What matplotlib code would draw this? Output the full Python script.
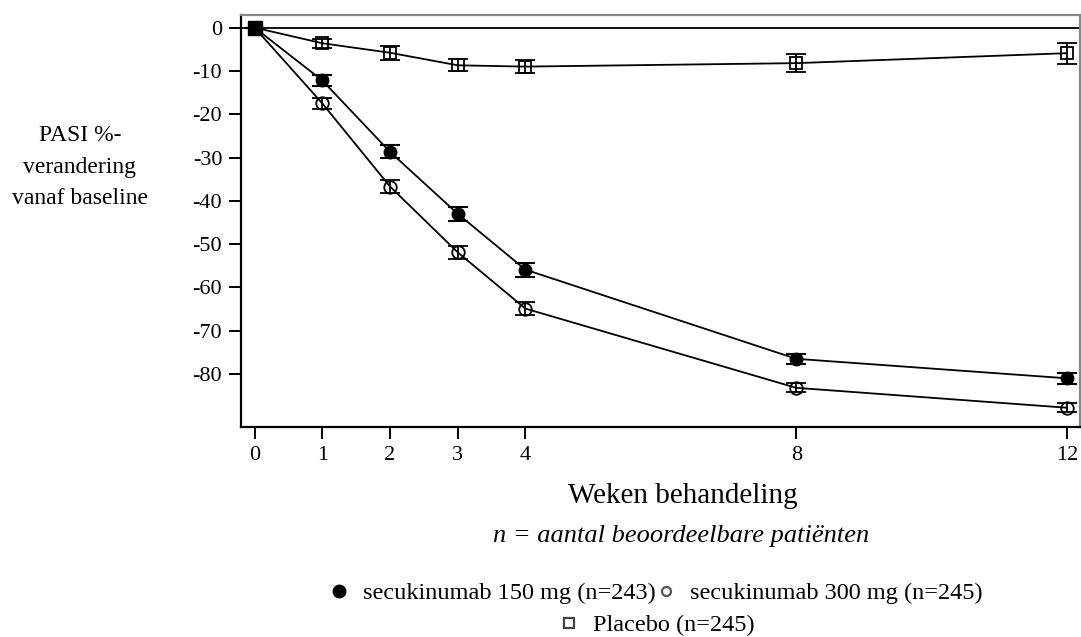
import matplotlib
matplotlib.use("Agg")
import matplotlib.lines as mlines
import matplotlib.pyplot as plt

plt.rcParams["font.family"] = ["Liberation Serif", "DejaVu Serif"]
plt.rcParams["axes.unicode_minus"] = False

weeks = [0, 1, 2, 3, 4, 8, 12]
sec150 = [0, -12.2, -28.7, -43.0, -55.9, -76.5, -81.0]
sec150_err = [0, 1.3, 1.5, 1.6, 1.6, 1.2, 1.3]
sec300 = [0, -17.5, -36.7, -51.9, -64.9, -83.2, -87.8]
sec300_err = [0, 1.3, 1.4, 1.5, 1.5, 1.0, 1.0]
placebo = [0, -3.6, -5.8, -8.7, -9.0, -8.2, -5.9]
placebo_err = [0, 1.0, 1.6, 1.4, 1.5, 2.1, 2.4]

fig = plt.figure(figsize=(10.81, 6.37), dpi=100)
ax = fig.add_axes([0.223, 0.33, 0.776, 0.647])

ax.axhline(0, color="black", lw=1.3, zorder=1)
style = dict(color="black", lw=1.3, capsize=7, capthick=1.5, elinewidth=1.3, zorder=3)
ax.errorbar(weeks, placebo, yerr=placebo_err, marker="s", ms=9, mfc="none", mec="black", mew=1.3, **style)
ax.errorbar(weeks, sec150, yerr=sec150_err, marker="o", ms=9, mfc="black", mec="black", **style)
ax.errorbar(weeks, sec300, yerr=sec300_err, marker="o", ms=9, mfc="none", mec="black", mew=1.3, **style)
# gevulde vierkant op baseline
ax.plot(weeks[:1], placebo[:1], marker="s", ms=10, color="black", zorder=6)

ax.set_xlim(-0.2, 12.19)
ax.set_ylim(-92.2, 3.0)
ax.set_xticks(weeks)
ax.set_yticks(range(0, -90, -10))
ax.tick_params(axis="both", labelsize=16, direction="out", length=8.6, width=1.4, colors="black", pad=5)
for s in ["left", "bottom"]:
    ax.spines[s].set_linewidth(1.6)
for s in ["top", "right"]:
    ax.spines[s].set_color("#888888")
    ax.spines[s].set_linewidth(1.6)

fig.text(0.074, 1 - 167 / 637, "PASI %-\nverandering\nvanaf baseline", ha="center", va="center",
         fontsize=17, linespacing=1.65)
fig.text(0.632, 1 - 503 / 637, "Weken behandeling", ha="center", va="baseline", fontsize=21)
fig.text(0.630, 1 - 542 / 637, "n = aantal beoordeelbare patiënten", ha="center", va="baseline",
         fontsize=19, style="italic")

h1 = mlines.Line2D([], [], color="black", marker="o", ls="None", ms=9, label="secukinumab 150 mg (n=243)")
h2 = mlines.Line2D([], [], color="#555555", marker="o", mfc="white", mew=1.6, ls="None", ms=6.5,
                   label="secukinumab 300 mg (n=245)")
h3 = mlines.Line2D([], [], color="#444444", marker="s", mfc="white", mew=1.6, ls="None", ms=7,
                   label="Placebo (n=245)")
fig.legend(handles=[h1, h2], loc="center", bbox_to_anchor=(0.607, 1 - 593 / 637), ncol=2,
           frameon=False, fontsize=17.5, handlelength=0.8, handletextpad=0.6, columnspacing=0.0,
           borderpad=0, borderaxespad=0)
fig.legend(handles=[h3], loc="center", bbox_to_anchor=(0.608, 1 - 625 / 637),
           frameon=False, fontsize=17.5, handlelength=0.8, handletextpad=0.6,
           borderpad=0, borderaxespad=0)

fig.savefig("out.png", dpi=100)
